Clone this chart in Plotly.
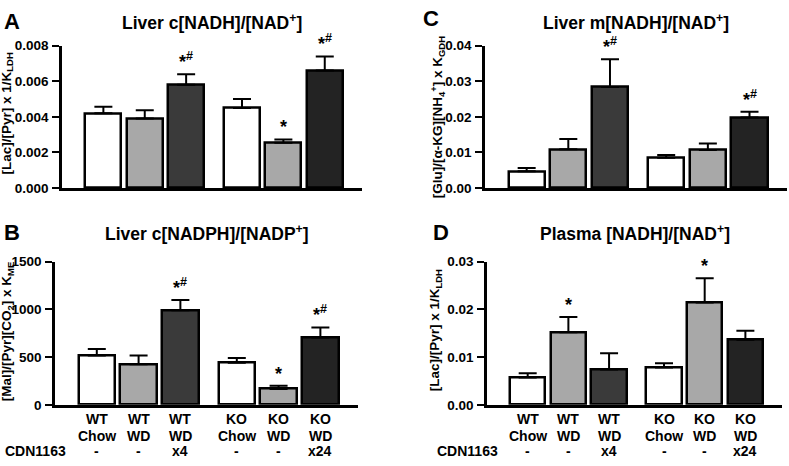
import plotly.graph_objects as go

genotype = ['WT', 'WT', 'WT', 'KO', 'KO', 'KO']
diet = ['Chow', 'WD', 'WD', 'Chow', 'WD', 'WD']
cdn1163 = ['-', '-', 'x4', '-', '-', 'x24']
bar_colors = ['white', '#a8a8a8', '#3a3a3a', 'white', '#a8a8a8', '#232323']

# panel A: Liver c[NADH]/[NAD+]
a_vals = [0.0042, 0.0039, 0.0058, 0.0045, 0.00255, 0.0066]
a_err = [0.00037, 0.00047, 0.0006, 0.0005, 0.00018, 0.0008]
a_sig = ['', '', '*#', '', '*', '*#']

# panel B: Liver c[NADPH]/[NADP+]
b_vals = [515, 425, 990, 440, 165, 705]
b_err = [68, 90, 108, 50, 35, 105]
b_sig = ['', '', '*#', '', '*', '*#']

# panel C: Liver m[NADH]/[NAD+]
c_vals = [0.0047, 0.0109, 0.0284, 0.0085, 0.0107, 0.0198]
c_err = [0.0009, 0.0029, 0.0078, 0.0008, 0.0018, 0.0016]
c_sig = ['', '', '*#', '', '', '*#']

# panel D: Plasma [NADH]/[NAD+]
d_vals = [0.0057, 0.0152, 0.0074, 0.0078, 0.0214, 0.0136]
d_err = [0.0009, 0.0032, 0.0034, 0.0009, 0.0051, 0.0019]
d_sig = ['', '*', '', '', '*', '']

W, H = 789, 466
gap = 0.35
pos = [i + (gap if i >= 3 else 0) for i in range(len(genotype))]
FONT = 'Arial'


def fx(p):
    return p / W


def fy(p):
    return 1 - p / H


def bold(size):
    return dict(family=FONT, size=size, color='black', weight='bold')


panels = [
    # vals, err, sig, title, ytitle, letter, plot box px (x0, x1, y0, y1), yrange, dtick, fmt,
    # x-label rows?, letter xy, title y, ytitle xy
    (a_vals, a_err, a_sig, 'Liver c[NADH]/[NAD<sup>+</sup>]',
     '[Lac]/[Pyr] x 1/K<sub>LDH</sub>', 'A', (62, 362, 40, 187), 0.008, 0.002, '.3f',
     False, (2, 15), 15, (7, 110)),
    (b_vals, b_err, b_sig, 'Liver c[NADPH]/[NADP<sup>+</sup>]',
     '[Mal]/[Pyr][CO<sub>2</sub>] x K<sub>ME</sub>', 'B', (55, 358, 263, 411), 1500, 500, 'd',
     True, (2, 233), 234, (7, 336)),
    (c_vals, c_err, c_sig, 'Liver m[NADH]/[NAD<sup>+</sup>]',
     '[Glu]/[α-KG][NH<sub>4</sub><sup>+</sup>] x K<sub>GDH</sub>', 'C', (485, 787, 40, 187), 0.04, 0.01, '.2f',
     False, (421, 12), 15, (438, 114)),
    (d_vals, d_err, d_sig, 'Plasma [NADH]/[NAD<sup>+</sup>]',
     '[Lac]/[Pyr] x 1/K<sub>LDH</sub>', 'D', (487, 782, 263, 411), 0.03, 0.01, '.2f',
     True, (431, 233), 234, (435, 334)),
]

fig = go.Figure()
annotations = []
layout = {}

for k, (vals, err, sig, title, ytitle, letter, box, ymax, dtick, fmt,
        showx, letter_xy, title_y, ytitle_xy) in enumerate(panels):
    n = '' if k == 0 else str(k + 1)
    x0, x1, y0, y1 = box
    fig.add_trace(go.Bar(
        x=pos, y=vals, width=0.87,
        marker=dict(color=bar_colors, line=dict(color='black', width=2.5)),
        error_y=dict(type='data', array=err, arrayminus=[0] * len(err), symmetric=False,
                     color='black', thickness=2, width=9),
        xaxis='x' + n, yaxis='y' + n, showlegend=False,
    ))
    layout['xaxis' + n] = dict(
        domain=[fx(x0), fx(x1)], range=[-1.0, 6.25], anchor='y' + n,
        showline=True, linecolor='black', linewidth=2.5, ticks='',
        showgrid=False, zeroline=False, showticklabels=False,
    )
    layout['yaxis' + n] = dict(
        domain=[fy(y1), fy(y0)], range=[0, ymax], anchor='x' + n, dtick=dtick, tickformat=fmt,
        showline=True, linecolor='black', linewidth=2.5, ticks='outside', ticklen=7,
        tickwidth=2, tickcolor='black', showgrid=False, zeroline=False,
        tickfont=bold(13.5), ticklabelstandoff=1,
    )
    # panel title
    annotations.append(dict(
        text=title, xref='paper', yref='paper', x=fx((x0 + x1) / 2), y=fy(title_y),
        xanchor='center', yanchor='middle', showarrow=False, font=bold(17.5),
    ))
    # panel letter
    annotations.append(dict(
        text=letter, xref='paper', yref='paper', x=fx(letter_xy[0]), y=fy(letter_xy[1]),
        xanchor='left', yanchor='middle', showarrow=False, font=bold(22),
    ))
    # y title
    annotations.append(dict(
        text=ytitle, xref='paper', yref='paper', x=fx(ytitle_xy[0]), y=fy(ytitle_xy[1]),
        xanchor='center', yanchor='middle', textangle=-90, showarrow=False, font=bold(13.5),
    ))
    # significance markers
    for i, s in enumerate(sig):
        if s:
            txt = '*<sup>#</sup>' if s == '*#' else '*'
            annotations.append(dict(
                text=txt, x=pos[i], y=vals[i] + err[i], xref='x' + n, yref='y' + n,
                xanchor='center', yanchor='bottom', showarrow=False, yshift=0,
                font=bold(18),
            ))
    if showx:
        for row, row_y in ((genotype, 426), (diet, 443), (cdn1163, 459)):
            for i, t in enumerate(row):
                annotations.append(dict(
                    text=t, x=pos[i], y=fy(row_y), xref='x' + n, yref='paper',
                    xanchor='center', yanchor='middle', showarrow=False, font=bold(14),
                ))
        annotations.append(dict(
            text='CDN1163', xref='paper', yref='paper', x=fx(x0 - 52), y=fy(459),
            xanchor='left', yanchor='middle', showarrow=False, font=bold(14),
        ))

fig.update_layout(
    width=W, height=H, margin=dict(l=0, r=0, t=0, b=0),
    plot_bgcolor='white', paper_bgcolor='white',
    annotations=annotations, bargap=0, **layout,
)

# page body margin would otherwise shift the figure
fig.write_html("out.html", config={'displayModeBar': False},
               post_script="document.body.style.margin='0';")
